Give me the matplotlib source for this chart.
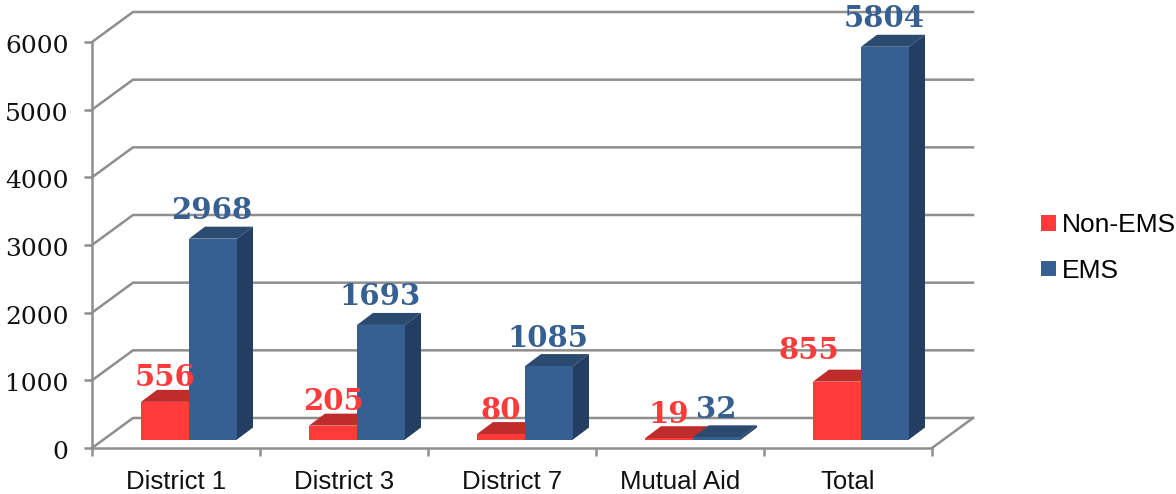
"""3D-look clustered bars: Non-EMS and EMS calls per district."""

import matplotlib
matplotlib.use("Agg")
import matplotlib.pyplot as plt
from matplotlib.patches import Patch, Polygon
from matplotlib.transforms import ScaledTranslation

categories = ["District 1", "District 3", "District 7", "Mutual Aid", "Total"]
non_ems = [556, 205, 80, 19, 855]
ems = [2968, 1693, 1085, 32, 5804]
y_ticks = [0, 1000, 2000, 3000, 4000, 5000, 6000]

W, H = 1176, 494
AX_L, AX_R, AX_B, AX_T = 92, 932, 448, 42  # axes box in pixels
PX_X = (len(categories)) / (AX_R - AX_L)  # data units per pixel
PX_Y = y_ticks[-1] / (AX_B - AX_T)

RED, RED_TOP = "#FF3A3A", "#BF2C2C"
BLUE, BLUE_TOP, BLUE_SIDE = "#366092", "#2B4A70", "#233E60"
GRID = "#8E8E8E"
SERIF = "DejaVu Serif"
SANS = "Liberation Sans"


def draw_bar(ax, x0, value, color, top, side=None):
    # front face, then lid and side pushed back by the bar depth
    w = 48 * PX_X
    dx, dy = 16 * PX_X, 12 * PX_Y
    y0 = 8.5 * PX_Y
    y1 = y0 + value
    ax.add_patch(Polygon([(x0 + dx, y1 + dy), (x0 + w + dx, y1 + dy), (x0 + w, y1), (x0, y1)],
                         fc=top, ec="none", clip_on=False, zorder=3))
    if side:
        ax.add_patch(Polygon([(x0 + w, y0), (x0 + w + dx, y0 + dy), (x0 + w + dx, y1 + dy), (x0 + w, y1)],
                             fc=side, ec="none", clip_on=False, zorder=3))
    ax.add_patch(Polygon([(x0, y0), (x0 + w, y0), (x0 + w, y1), (x0, y1)],
                         fc=color, ec="none", clip_on=False, zorder=3))


def main() -> None:
    fig = plt.figure(figsize=(W / 100, H / 100), dpi=100)
    ax = fig.add_axes([AX_L / W, (H - AX_B) / H, (AX_R - AX_L) / W, (AX_B - AX_T) / H])
    ax.set_xlim(0, len(categories))
    ax.set_ylim(0, y_ticks[-1])

    # back wall and left wall gridlines
    back_x, back_y = 41 * PX_X, 30 * PX_Y
    for v in y_ticks:
        ax.plot([0, back_x, len(categories) + back_x], [v, v + back_y, v + back_y],
                color=GRID, lw=1.8, clip_on=False, zorder=1)
    ax.plot([len(categories), len(categories) + back_x], [0, back_y],
            color=GRID, lw=1.8, clip_on=False, zorder=1)

    for i in range(len(categories)):
        red_x = i + 49 * PX_X
        blue_x = red_x + 48 * PX_X
        draw_bar(ax, red_x, non_ems[i], RED, RED_TOP)
        draw_bar(ax, blue_x, ems[i], BLUE, BLUE_TOP, BLUE_SIDE)

        w = 24 * PX_X
        y_base = 8.5 * PX_Y
        red_off = (0, 24)
        blue_off = (-1, 28)
        if categories[i] == "Total":
            red_off = (-28, 31)  # this label sits off to the left in the original
        ax.annotate(str(non_ems[i]), (red_x + w, y_base + non_ems[i]),
                    xytext=(red_off[0] * 0.72, red_off[1] * 0.72), textcoords="offset points",
                    ha="center", va="center", color=RED, fontsize=21,
                    fontweight="bold", family=SERIF, zorder=4, annotation_clip=False)
        ax.annotate(str(ems[i]), (blue_x + w, y_base + ems[i]),
                    xytext=(blue_off[0] * 0.72, blue_off[1] * 0.72), textcoords="offset points",
                    ha="center", va="center", color=BLUE, fontsize=21,
                    fontweight="bold", family=SERIF, zorder=4, annotation_clip=False)

    for s in ("top", "right"):
        ax.spines[s].set_visible(False)
    for s in ("left", "bottom"):
        ax.spines[s].set_color(GRID)
        ax.spines[s].set_linewidth(1.8)

    ax.set_yticks(y_ticks)
    ax.set_yticklabels([str(v) for v in y_ticks], family=SERIF, fontsize=18, color="#111111")
    ax.tick_params(axis="y", length=6, width=1.8, color=GRID, pad=11)
    nudge = ScaledTranslation(0, -2 / 100, fig.dpi_scale_trans)
    for lab in ax.get_yticklabels():
        lab.set_transform(lab.get_transform() + nudge)

    ax.set_xticks(range(len(categories) + 1))
    ax.set_xticklabels([])
    ax.tick_params(axis="x", which="major", length=6, width=1.8, color=GRID)
    ax.set_xticks([i + 0.5 for i in range(len(categories))], minor=True)
    ax.set_xticklabels(categories, minor=True, family=SANS, fontsize=18.5, color="#111111")
    ax.tick_params(axis="x", which="minor", length=0, pad=16)

    handles = [Patch(fc=RED, ec="none", label="Non-EMS"), Patch(fc=BLUE, ec="none", label="EMS")]
    ax.legend(handles=handles, loc="center left", bbox_to_anchor=(1041 / W, 246 / H),
              bbox_transform=fig.transFigure, frameon=False, borderpad=0, borderaxespad=0,
              prop={"family": SANS, "size": 19}, handlelength=0.55, handleheight=0.55,
              handletextpad=0.25, labelspacing=0.82)

    fig.savefig("out.png", dpi=100)
    plt.close(fig)


if __name__ == "__main__":
    main()
